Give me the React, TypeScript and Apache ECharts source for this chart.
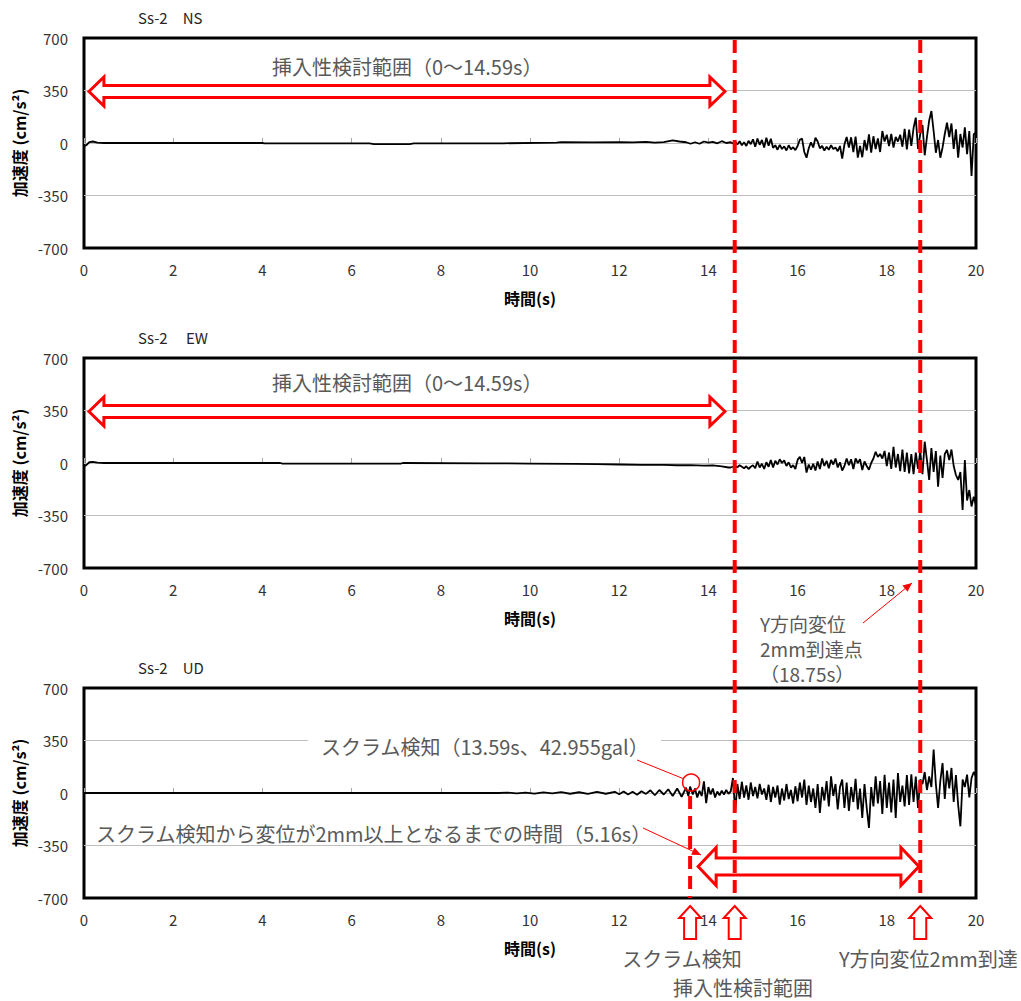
import React, { useEffect, useRef } from "react";
import * as echarts from "echarts";

const FONT = '"Noto Sans CJK JP", "Noto Sans", sans-serif';

const PANEL_TITLES = ["Ss-2　NS", "Ss-2　 EW", "Ss-2　UD"];
const X_MIN = 0, X_MAX = 20, X_STEP = 2;
const Y_MIN = -700, Y_MAX = 700, Y_STEP = 350;

// Times of events (s)
const SCRAM_T = 13.59;
const RANGE_END_T = 14.59;
const REACH_T = 18.75;

// Early parts: explicit sample times and values (cm/s²)
const nsEarlyT = [0, 0.05, 0.12, 0.2, 0.3, 0.45, 4.0, 4.05, 6.4, 6.5, 7.3, 7.4, 9.4, 10.6, 10.7, 11.4, 12.0, 12.3, 12.6, 12.8, 13.0, 13.2, 13.35, 13.5, 13.6, 13.7, 13.8, 13.9, 14.0, 14.1, 14.2, 14.3, 14.4];
const nsEarlyV = [-22, -15, 6, 10, 3, 0, 0, -3, -3, -8, -7, -3, -2, 3, 6, 4, 6, 4, 8, 2, 6, 18, 10, 5, -5, 5, -5, 10, 2, 8, -2, 12, 0];

const ewEarlyT = [0, 0.05, 0.12, 0.2, 0.3, 0.45, 4.4, 4.45, 7.1, 7.15, 9.0, 10.0, 11.0, 11.5, 12.0, 12.5, 13.0, 13.3, 13.6, 13.9, 14.1, 14.3, 14.45];
const ewEarlyV = [-22, -14, 5, 7, 2, 0, 0, -4, -4, 0, -2, -4, -6, -8, -10, -12, -13, -15, -14, -17, -16, -22, -30];

const udEarlyT = [0, 9.3, 9.5, 9.7, 9.9, 10.1, 10.3, 10.5, 10.7, 10.9, 11.1, 11.3, 11.5, 11.7, 11.9, 12.0, 12.1, 12.2, 12.3, 12.4, 12.5, 12.6, 12.7, 12.8, 12.9, 13.0, 13.1, 13.2, 13.3, 13.4, 13.5, 13.55, 13.59, 13.65, 13.7, 13.75, 13.8, 13.85, 13.9, 13.95, 14.0, 14.05, 14.1, 14.15, 14.2, 14.25, 14.3, 14.35, 14.4, 14.45];
const udEarlyV = [0, 0, 3, -3, 2, -4, 4, -3, 6, -5, 5, -6, 7, -5, 8, -8, 10, -10, 8, -12, 12, -6, 18, -15, 20, -10, 25, -20, 30, -25, 35, -20, 42.955, -10, 30, -30, 15, -20, 78, -67, 40, -10, 30, -30, 10, -15, 15, -10, 20, -5];

// Late parts: sampled every 0.05 s from 14.50 s to 20.00 s
const LATE_START = 14.5;
const LATE_DT = 0.05;
const nsLateV = [
  5, -3, 8, -10, 12, -15, 5, -20, 15, -8,
  25, -25, 30, -12, 20, -30, 35, -18, 28, -32,
  -15, -45, -12, -40, -22, -50, -15, -42, -28, -48,
  -20, 22, 29, -60, -98, -35, 5, -30, 35, 10,
  -35, -20, -50, -25, -45, -15, -40, -30, -55, -20,
  -104, -10, 40, -30, 38, -60, 42, -98, -20, -95,
  20, -50, 58, -65, 45, -40, 30, -60, 80, 10,
  55, -20, 60, -30, 40, 10, 55, -25, 95, -42,
  90, -20, 100, 169, -40, 60, 120, -82, 40, 150,
  213, 80, -65, 20, -98, -30, 60, 135, 40, 130,
  -40, 91, -98, 60, -30, 105, -75, 80, -220, 58,
  70,
];
const ewLateV = [
  -30, -25, -20, -28, -15, -25, -35, -22, -40, -25,
  -15, -35, 10, -30, -5, -40, 5, -25, 20, -30,
  15, -10, 25, 0, 18, -20, 5, -30, -15, -40,
  20, 42, 0, 40, -64, -10, -45, -5, -50, 10,
  -40, 30, -20, 15, -35, 20, -10, 30, -30, 5,
  -50, -20, 30, -15, 25, -40, 30, 0, 25, -47,
  10, -20, -45, 0, 30, 75, 40, 60, 30, 80,
  -20, 70, -40, 108, -30, 60, -55, 90, -60, 70,
  -70, 60, -75, 70, -40, 80, -75, 142, 20, -113,
  100, -60, 80, -158, 50, -100, 60, 87, 20, 90,
  -20, -80, -113, -60, -313, 20, -250, -180, -290, -225,
  -280,
];
const udLateV = [
  10, 100, -122, 60, -40, 75, -30, 50, -45, 70,
  -20, 40, -35, 60, -10, 30, -45, 55, -60, 40,
  -30, 50, -78, 30, -50, 60, -40, 20, -70, 45,
  -55, 70, -30, 89, -80, 50, -60, 30, -100, 60,
  -133, 40, -50, 80, -90, 111, -20, 60, -110, 40,
  90, -100, 70, -120, 40, -60, 95, -110, 30, -167,
  60, -100, -233, 40, -90, 111, -70, 80, -140, 122,
  -100, 70, -130, 90, -167, 133, -60, 50, -90, 120,
  -80, 125, -60, 110, -100, 90, 60, 140, 20, 110,
  40, 289, 60, -100, 80, 200, -40, 150, 30, 167,
  -60, 120, -80, -222, 90, 40, 122, -30, 100, 140,
  110,
];

// Annotation anchors in data units
const RANGE_ARROW_T = [0.11, 14.37];
const RANGE_ARROW_V = 350;
const SPAN_ARROW_T = [13.77, 18.72];
const SPAN_ARROW_V = -490;

const REACH_NOTE_LINES = ["Y方向変位", "2mm到達点", "（18.75s）"];

const GRID_LEFT = 84;
const GRID_W = 892;
const GRID_H = 210;
const GRID_TOPS = [38, 358, 688];

function buildSeries(earlyT: number[], earlyV: number[], lateV: number[]) {
  const pts: number[][] = earlyT.map((t, i) => [t, earlyV[i]]);
  lateV.forEach((v, i) => {
    pts.push([Number((LATE_START + i * LATE_DT).toFixed(2)), v]);
  });
  return pts;
}

function hArrowPts(xl: number, xr: number, yc: number, headLen: number, headHalf: number, shaftHalf: number) {
  return [
    [xl, yc], [xl + headLen, yc - headHalf], [xl + headLen, yc - shaftHalf],
    [xr - headLen, yc - shaftHalf], [xr - headLen, yc - headHalf], [xr, yc],
    [xr - headLen, yc + headHalf], [xr - headLen, yc + shaftHalf],
    [xl + headLen, yc + shaftHalf], [xl + headLen, yc + headHalf],
  ];
}

function upArrowPts(x: number, yTop: number) {
  const headLen = 12, headHalf = 11, shaftHalf = 6, total = 33;
  return [
    [x, yTop], [x + headHalf, yTop + headLen], [x + shaftHalf, yTop + headLen],
    [x + shaftHalf, yTop + total], [x - shaftHalf, yTop + total],
    [x - shaftHalf, yTop + headLen], [x - headHalf, yTop + headLen],
  ];
}

function arrowHead(x1: number, y1: number, x2: number, y2: number, len: number, hw: number) {
  const dx = x2 - x1, dy = y2 - y1;
  const L = Math.hypot(dx, dy);
  const ux = dx / L, uy = dy / L;
  const bx = x2 - ux * len, by = y2 - uy * len;
  return [[x2, y2], [bx - uy * hw, by + ux * hw], [bx + uy * hw, by - ux * hw]];
}

export default function App() {
  const ref = useRef<HTMLDivElement>(null);

  useEffect(() => {
    if (!ref.current) return;
    const chart = echarts.init(ref.current, undefined, { renderer: "svg" });
    const datas = [
      buildSeries(nsEarlyT, nsEarlyV, nsLateV),
      buildSeries(ewEarlyT, ewEarlyV, ewLateV),
      buildSeries(udEarlyT, udEarlyV, udLateV),
    ];
    const idx = [0, 1, 2];
    chart.setOption({
      animation: false,
      backgroundColor: "#fff",
      textStyle: { fontFamily: FONT },
      grid: idx.map((i) => ({
        left: GRID_LEFT, top: GRID_TOPS[i], width: GRID_W, height: GRID_H,
        show: true, borderColor: "#000", borderWidth: 3, backgroundColor: "transparent",
        containLabel: false,
      })),
      xAxis: idx.map((i) => ({
        gridIndex: i, type: "value", min: X_MIN, max: X_MAX, interval: X_STEP,
        axisLine: { show: false },
        axisTick: { show: true, inside: true, length: 5, lineStyle: { color: "#a6a6a6" } },
        axisLabel: { fontSize: 15, color: "#333", margin: 14, fontFamily: FONT },
        splitLine: { show: false },
        name: "時間(s)", nameLocation: "middle", nameGap: 42,
        nameTextStyle: { fontWeight: "bold", fontSize: 16, color: "#000", fontFamily: FONT },
      })),
      yAxis: idx.map((i) => ({
        gridIndex: i, type: "value", min: Y_MIN, max: Y_MAX, interval: Y_STEP,
        axisLine: { show: false },
        axisTick: { show: false },
        axisLabel: { fontSize: 15, color: "#333", margin: 16, fontFamily: FONT },
        splitLine: {
          show: true,
          lineStyle: { color: ["rgba(0,0,0,0)", "#bfbfbf", "#bfbfbf", "#bfbfbf", "rgba(0,0,0,0)"], width: 1 },
        },
        name: "加速度 (cm/s²)", nameLocation: "middle", nameGap: 56, nameRotate: 90,
        nameTextStyle: { fontWeight: "bold", fontSize: 16, color: "#000", fontFamily: FONT },
      })),
      series: idx.map((i) => ({
        type: "line", xAxisIndex: i, yAxisIndex: i, data: datas[i],
        symbol: "none", showSymbol: false, z: 3,
        lineStyle: { color: "#000", width: 1.8 },
      })),
    });

    const px = (g: number, t: number, v: number) =>
      chart.convertToPixel({ gridIndex: g } as any, [t, v]) as number[];

    const RED = "#ff0000";
    const GRAY = "#595959";
    const textFont = `20px ${FONT}`;
    const g: any[] = [];

    // Panel titles
    const titleY = [17, 337, 667];
    idx.forEach((i) => {
      g.push({ type: "text", z: 100, style: { text: PANEL_TITLES[i], x: 138, y: titleY[i], font: `15px ${FONT}`, fill: "#262626", textVerticalAlign: "middle" } });
    });

    // Range arrows in panels 1 & 2
    [0, 1].forEach((i) => {
      const l = px(i, RANGE_ARROW_T[0], RANGE_ARROW_V);
      const r = px(i, RANGE_ARROW_T[1], RANGE_ARROW_V);
      g.push({ type: "polygon", z: 100, shape: { points: hArrowPts(l[0], r[0], l[1] + 1, 15, 14.5, 6) }, style: { fill: "#fff", stroke: RED, lineWidth: 3 } });
      g.push({ type: "text", z: 100, style: { text: "挿入性検討範囲（0～14.59s）", x: 272, y: i === 0 ? 66 : 382, font: textFont, fill: GRAY, textVerticalAlign: "middle" } });
    });

    // Span arrow in panel 3
    {
      const l = px(2, SPAN_ARROW_T[0], SPAN_ARROW_V);
      const r = px(2, SPAN_ARROW_T[1], SPAN_ARROW_V);
      g.push({ type: "polygon", z: 100, shape: { points: hArrowPts(l[0], r[0], l[1], 18, 19, 8.5) }, style: { fill: "#fff", stroke: RED, lineWidth: 3 } });
    }

    // Dashed vertical lines
    const bottom3 = px(2, 0, Y_MIN)[1];
    [RANGE_END_T, REACH_T].forEach((t) => {
      const top = px(0, t, Y_MAX)[1];
      const x = px(0, t, 0)[0];
      g.push({ type: "line", z: 110, shape: { x1: x, y1: top + 2, x2: x, y2: bottom3 }, style: { stroke: RED, lineWidth: 4, lineDash: [13, 7] } });
    });
    {
      const p = px(2, SCRAM_T, 0);
      g.push({ type: "line", z: 110, shape: { x1: p[0], y1: p[1] + 3, x2: p[0], y2: bottom3 }, style: { stroke: RED, lineWidth: 4, lineDash: [13, 7] } });
    }

    // Up arrows under panel 3
    [SCRAM_T, RANGE_END_T, REACH_T].forEach((t) => {
      const x = px(2, t, 0)[0];
      g.push({ type: "polygon", z: 100, shape: { points: upArrowPts(x, bottom3 + 8) }, style: { fill: "#fff", stroke: RED, lineWidth: 2 } });
    });
    g.push({ type: "text", z: 100, style: { text: "スクラム検知", x: 682, y: 958, font: textFont, fill: GRAY, textAlign: "center", textVerticalAlign: "middle" } });
    g.push({ type: "text", z: 100, style: { text: "挿入性検討範囲", x: 743, y: 987, font: textFont, fill: GRAY, textAlign: "center", textVerticalAlign: "middle" } });
    g.push({ type: "text", z: 100, style: { text: "Y方向変位2mm到達", x: 839, y: 958, font: textFont, fill: GRAY, textVerticalAlign: "middle" } });

    // Y-direction displacement annotation
    REACH_NOTE_LINES.forEach((s, k) => {
      g.push({ type: "text", z: 100, style: { text: s, x: 760, y: 623 + k * 25, font: `19px ${FONT}`, fill: GRAY, textVerticalAlign: "middle" } });
    });
    g.push({ type: "line", z: 100, shape: { x1: 863, y1: 623, x2: 912, y2: 583 }, style: { stroke: RED, lineWidth: 1 } });
    g.push({ type: "polygon", z: 100, shape: { points: arrowHead(863, 623, 912, 583, 9, 4) }, style: { fill: RED } });

    // Scram detection annotation
    g.push({ type: "rect", z: 95, shape: { x: 308, y: 735, width: 353, height: 21 }, style: { fill: "#fff" } });
    g.push({ type: "text", z: 100, style: { text: "スクラム検知（13.59s、42.955gal）", x: 321, y: 746, font: textFont, fill: GRAY, textVerticalAlign: "middle" } });
    const scramPt = px(2, SCRAM_T, 42.955);
    g.push({ type: "circle", z: 100, shape: { cx: scramPt[0] + 1, cy: scramPt[1] - 4, r: 8.5 }, style: { fill: "none", stroke: RED, lineWidth: 1.5 } });
    g.push({ type: "line", z: 100, shape: { x1: 637, y1: 760, x2: scramPt[0] - 7, y2: scramPt[1] - 8 }, style: { stroke: RED, lineWidth: 1 } });

    // Duration annotation
    g.push({ type: "text", z: 100, style: { text: "スクラム検知から変位が2mm以上となるまでの時間（5.16s）", x: 96, y: 833, font: textFont, fill: GRAY, textVerticalAlign: "middle" } });
    g.push({ type: "line", z: 100, shape: { x1: 643, y1: 828, x2: 701, y2: 855 }, style: { stroke: RED, lineWidth: 1 } });
    g.push({ type: "polygon", z: 100, shape: { points: arrowHead(643, 828, 701, 855, 9, 4) }, style: { fill: RED } });

    chart.setOption({ graphic: { elements: g } });

    return () => chart.dispose();
  }, []);

  return <div ref={ref} style={{ position: "absolute", left: 0, top: 0, width: 1021, height: 1001 }} />;
}
